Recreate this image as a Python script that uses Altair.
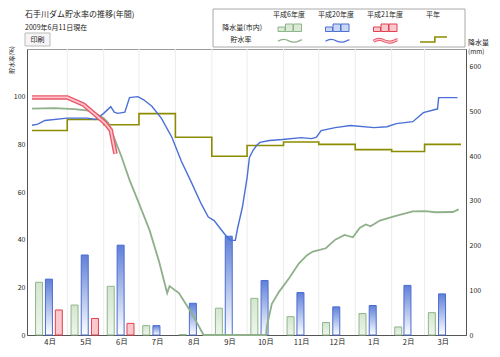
import altair as alt
import pandas as pd

FONT = "Noto Sans CJK JP"

# ---------------- data ----------------
months = ["4月", "5月", "6月", "7月", "8月", "9月", "10月", "11月", "12月", "1月", "2月", "3月"]
month_days = [30, 31, 30, 31, 31, 30, 31, 30, 31, 31, 28, 31]

# monthly rainfall (mm, right axis)
rain_h6 = [118, 67, 109, 21, 1, 60, 82, 41, 28, 48, 18, 50]
rain_h20 = [125, 179, 201, 21, 71, 221, 122, 95, 63, 66, 111, 92]
rain_h21 = [56, 37, 26]

# normal storage rate per month (%)
normal_pct = [85.8, 90.4, 88.2, 92.9, 83, 75, 79.5, 81, 80, 77.8, 77, 80]

# storage rate (%) by day of fiscal year
h6_day = [0, 19, 36, 50, 61, 65, 72, 76, 83, 90, 100, 108, 115, 117, 125, 136, 146, 199, 200, 204,
          210, 219, 227, 234, 239, 250, 258, 266, 273, 279, 284, 288, 296, 308, 324, 335, 343, 358, 363]
h6_pct = [95, 95.2, 94.8, 94, 91, 89, 80, 75, 65, 56.5, 44, 31, 17.6, 20.5, 17.6, 9, 0, 0, 4, 13,
          18, 24, 30, 33.5, 35, 36.4, 40, 42, 41, 45, 46.4, 45.6, 48, 49.8, 51.9, 52, 51.5, 51.6, 52.7]

h20_day = [0, 5, 11, 30, 47, 54, 61, 67, 70, 73, 79, 83, 90, 95, 102, 110, 119, 127, 136, 144,
           150, 155, 160, 166, 169, 173, 175, 179, 183, 185, 188, 191, 194, 202, 213, 229, 238, 242, 246, 258,
           271, 291, 302, 310, 324, 333, 343, 345, 346, 362]
h20_pct = [88, 88.5, 90, 91, 91, 90.4, 93, 95.8, 93.5, 93, 93.5, 99.6, 100, 98.7, 96, 91, 83, 73, 63.6, 55,
           49.5, 48, 44.8, 41, 39.7, 39.7, 45, 53.6, 66, 74.5, 77.4, 79.5, 80.8, 81.6, 82, 82.8, 82.4, 83, 85.8, 87,
           87.9, 87, 87.4, 88.7, 89.5, 93.3, 94.6, 94.8, 99.6, 99.6]

h21_day = [0, 30, 44, 55, 62, 67, 71]
h21_pct = [99.7, 99.7, 96.6, 92, 89, 86, 76]

# ---------------- derived tables ----------------
starts = [sum(month_days[:i]) for i in range(12)]
total = sum(month_days)
mids = [s + d / 2 for s, d in zip(starts, month_days)]

label_expr = ""
for i in range(11):
    label_expr += f"datum.value < {starts[i + 1]} ? '{months[i]}' : "
label_expr += f"'{months[11]}'"


def bar_table(vals, frac):
    return pd.DataFrame({"day": [starts[i] + frac * month_days[i] for i in range(len(vals))],
                         "mm": vals})


normal_df = pd.DataFrame({"day": starts + [total], "pct": normal_pct + [normal_pct[-1]]})
grid_df = pd.DataFrame({"day": starts[1:]})

# ---------------- encodings ----------------
X = alt.X("day:Q", scale=alt.Scale(domain=[0, total], nice=False, zero=False),
          axis=alt.Axis(values=mids, labelExpr=label_expr, grid=False, ticks=False,
                        domainColor="#555", labelFont=FONT, labelFontSize=7.5,
                        labelColor="#222", labelPadding=3, title=None))
YL = alt.Y("pct:Q", scale=alt.Scale(domain=[0, 120], nice=False),
           axis=alt.Axis(values=[0, 20, 40, 60, 80, 100], grid=False, ticks=False,
                         domainColor="#555", labelFont=FONT, labelFontSize=7,
                         labelColor="#222", labelPadding=2, title=None))
YR = alt.Y("mm:Q", scale=alt.Scale(domain=[0, 640], nice=False),
           axis=alt.Axis(orient="right", values=[0, 100, 200, 300, 400, 500, 600], grid=False,
                         ticks=False, domainColor="#555", labelFont=FONT, labelFontSize=7,
                         labelColor="#222", labelPadding=3, title=None))


def line(day, pct, color, width, interp="linear"):
    df = pd.DataFrame({"day": day, "pct": pct})
    return alt.Chart(df).mark_line(color=color, strokeWidth=width, interpolate=interp).encode(x=X, y=YL)


blue_grad = alt.Gradient(gradient="linear", x1=0, x2=0, y1=0, y2=1,
                         stops=[alt.GradientStop(color="#5f80d8", offset=0),
                                alt.GradientStop(color="#ffffff", offset=1)])
green_grad = alt.Gradient(gradient="linear", x1=0, x2=0, y1=0, y2=1,
                          stops=[alt.GradientStop(color="#d4e6cf", offset=0),
                                 alt.GradientStop(color="#eef6ec", offset=1)])

grid = alt.Chart(grid_df).mark_rule(color="#ececec", strokeWidth=1).encode(x=X)
b_h6 = alt.Chart(bar_table(rain_h6, 0.2)).mark_bar(size=7, fill=green_grad, stroke="#8fb58b",
                                                    strokeWidth=1).encode(x=X, y=YR)
b_h20 = alt.Chart(bar_table(rain_h20, 0.48)).mark_bar(size=7, fill=blue_grad, stroke="#4a6cd0",
                                                      strokeWidth=1).encode(x=X, y=YR)
b_h21 = alt.Chart(bar_table(rain_h21, 0.76)).mark_bar(size=7, fill="#f9c9cd", stroke="#e0404e",
                                                      strokeWidth=1).encode(x=X, y=YR)

bars_group = alt.layer(grid, b_h6, b_h20, b_h21)

l_norm = line(normal_df["day"].tolist(), normal_df["pct"].tolist(), "#8c8c00", 1.6, "step-after")
l_h6 = line(h6_day, h6_pct, "#8fb08a", 1.8)
l_h20 = line(h20_day, h20_pct, "#4a6fd6", 1.4)
l_h21a = line(h21_day, h21_pct, "#e8586a", 4.5)
l_h21b = line(h21_day, h21_pct, "#ffc4cb", 1.8)

# ---------------- decorations (page coordinates -> plot coordinates) ----------------
OX, OY = 27, 49
dummy = pd.DataFrame({"d": [0]})


def txt(s, x, y, size=7, align="left", color="#222", angle=0):
    return alt.Chart(dummy).mark_text(text=s, font=FONT, fontSize=size, align=align,
                                      baseline="middle", color=color, angle=angle).encode(
        x=alt.value(x - OX), y=alt.value(y - OY))


def box(x1, y1, x2, y2, fill, stroke, sw=1):
    return alt.Chart(dummy).mark_rect(fill=fill, stroke=stroke, strokeWidth=sw).encode(
        x=alt.value(x1 - OX), x2=alt.value(x2 - OX), y=alt.value(y1 - OY), y2=alt.value(y2 - OY))


def icon(path, x, y, width, color, sw):
    return alt.Chart(dummy).mark_point(shape=path, size=width * width, filled=False, color=color,
                                       strokeWidth=sw, opacity=1).encode(
        x=alt.value(x - OX), y=alt.value(y - OY))


WAVE = "M-1,0.06 C-0.7,-0.14 -0.4,-0.14 -0.1,0.03 C0.2,0.17 0.5,0.17 0.75,0.03 C0.85,-0.03 0.95,-0.06 1,-0.06"
STEP = "M-1,0.19 L0.1,0.19 L0.1,-0.19 L1,-0.19"


def bar_icon(x0, fill, stroke):
    return [box(x0, 27, x0 + 7, 31.5, fill, stroke),
            box(x0 + 7.5, 24, x0 + 15, 31.5, fill, stroke),
            box(x0 + 15.5, 24, x0 + 23.5, 31.5, fill, stroke)]


deco = [
    txt("石手川ダム貯水率の推移(年間)", 25, 14.5, size=8),
    txt("2009年6月11日現在", 25, 27.5, size=7),
    box(25, 33, 50, 46, "#f5f5f5", "#bbbbbb"),
    txt("印刷", 37.5, 39.5, size=7, align="center"),
    txt("貯水率(%)", 12, 60, size=6, align="center", angle=270),
    txt("降水量", 468, 43, size=7),
    txt("(mm)", 468, 52, size=6.5),
    box(213, 9, 465, 47, "#ffffff", "#aaaaaa"),
    txt("平成6年度", 289, 14.5, align="center"),
    txt("平成20年度", 336, 14.5, align="center"),
    txt("平成21年度", 385, 14.5, align="center"),
    txt("平年", 433, 14.5, align="center"),
    txt("降水量(市内)", 262, 27.5, align="right"),
    txt("貯水率", 241, 39.5, align="center"),
    *bar_icon(278, "#dbe9d6", "#8db58a"),
    *bar_icon(325.5, "#c9d7f4", "#4f70d0"),
    *bar_icon(373.5, "#f8c8cc", "#e04050"),
    icon(WAVE, 290, 40.5, 24, "#8fb08a", 1.3),
    icon(WAVE, 337.5, 40.5, 24, "#4a6fd6", 1.2),
    icon(WAVE, 385.5, 40.5, 24, "#e8586a", 3.2),
    icon(WAVE, 385.5, 40.5, 24, "#ffc4cb", 1.2),
    icon(STEP, 433.5, 39.5, 27, "#8c8c00", 1.6),
]

lines_group = alt.layer(l_norm, l_h6, l_h20, l_h21a, l_h21b, *deco)

chart = (
    alt.layer(bars_group, lines_group)
    .resolve_scale(y="independent")
    .properties(width=439, height=286,
                autosize=alt.AutoSizeParams(type="none"),
                padding={"left": 19, "top": 41, "right": 24, "bottom": 10},
                background="white")
    .configure_view(stroke="#9a9a9a", strokeWidth=1)
)

chart.save("out.html", embed_options={"renderer": "svg", "actions": False})
